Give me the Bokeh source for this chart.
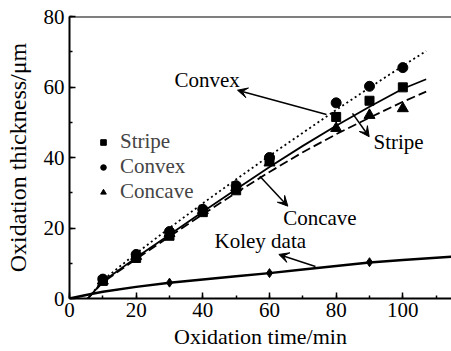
from bokeh.plotting import figure
from bokeh.models import (Range1d, SingleIntervalTicker, Legend, LegendItem, Label,
                          Arrow, VeeHead, Span)
from bokeh.embed import file_html
from bokeh.resources import INLINE

# ---- measured data ----
time = [10, 20, 30, 40, 50, 60, 80, 90, 100]
stripe = [5.0, 11.5, 17.8, 24.5, 30.7, 39.2, 51.5, 56.1, 59.9]
convex = [5.5, 12.5, 19.0, 25.3, 32.0, 40.0, 55.5, 60.2, 65.5]
concave = [5.0, 12.0, 18.5, 25.0, 31.5, 38.5, 48.3, 52.0, 53.9]

koley_t = [30, 60, 90]
koley_y = [4.5, 7.2, 10.3]

# fitted curves
fit_t = [5.5, 10, 20, 30, 40, 50, 60, 70, 80, 90, 100, 107]
fit_stripe = [0, 4.8, 11.6, 18.1, 24.6, 31.0, 37.3, 43.3, 49.0, 54.4, 59.5, 62.2]
fit_convex = [0, 5.2, 12.8, 20.0, 27.0, 33.8, 40.5, 47.0, 53.5, 59.8, 66.0, 70.2]
fit_concave = [0, 4.6, 11.2, 17.6, 23.9, 30.0, 35.9, 41.5, 46.6, 51.3, 55.8, 58.7]

koley_curve_t = [0, 5, 10, 20, 30, 40, 50, 60, 70, 80, 90, 100, 115]
koley_curve_y = [0, 1.0, 1.9, 3.3, 4.5, 5.4, 6.3, 7.2, 8.2, 9.2, 10.2, 10.9, 11.9]

FONT = "Liberation Serif"

p = figure(width=451, height=351, output_backend="svg", toolbar_location=None,
           x_range=Range1d(0, 114.6), y_range=Range1d(0, 80),
           min_border_left=69, min_border_top=16, min_border_right=0, min_border_bottom=53)
p.outline_line_color = None
p.grid.visible = False
p.background_fill_color = "white"
p.border_fill_color = "white"

for ax in (p.xaxis[0], p.yaxis[0]):
    ax.ticker = SingleIntervalTicker(interval=20, num_minor_ticks=2)
    ax.axis_line_width = 2
    ax.axis_line_color = "black"
    ax.major_tick_in = 6
    ax.major_tick_out = 0
    ax.minor_tick_in = 3
    ax.minor_tick_out = 0
    ax.major_tick_line_width = 1.5
    ax.minor_tick_line_width = 1.5
    ax.major_label_text_font = FONT
    ax.major_label_text_font_size = "21px"
    ax.major_label_text_color = "black"
    ax.axis_label_text_font = FONT
    ax.axis_label_text_font_style = "normal"
    ax.axis_label_text_color = "black"

p.xaxis.axis_label = "Oxidation time/min"
p.yaxis.axis_label = "Oxidation thickness/\u03bcm"
p.xaxis.axis_label_text_font_size = "22px"
p.yaxis.axis_label_text_font_size = "24px"
p.xaxis.major_label_standoff = 4
p.xaxis.axis_label_standoff = 4
p.yaxis.major_label_standoff = 5
p.yaxis.axis_label_standoff = 10

p.add_layout(Span(location=80, dimension="width", line_color="black", line_width=2))

# fitted lines
p.line(fit_t, fit_convex, line_color="black", line_width=1.8, line_dash="2 3")
p.line(fit_t, fit_stripe, line_color="black", line_width=1.8)
p.line(fit_t, fit_concave, line_color="black", line_width=1.8, line_dash="9 4")
p.line(koley_curve_t, koley_curve_y, line_color="black", line_width=2.5)

# markers
r_sq = p.scatter(time, stripe, marker="square", size=9, color="black")
r_ci = p.scatter(time, convex, marker="circle", size=10, color="black")
r_tr = p.scatter(time, concave, marker="triangle", size=11, color="black")
p.scatter(koley_t, koley_y, marker="diamond", size=9, color="black")

legend = Legend(items=[LegendItem(label="Stripe", renderers=[r_sq]),
                       LegendItem(label="Convex", renderers=[r_ci]),
                       LegendItem(label="Concave", renderers=[r_tr])],
                location=(27, 94), padding=0, margin=0, spacing=-2,
                glyph_width=14, glyph_height=20, label_height=20, label_standoff=10,
                label_text_font=FONT, label_text_font_size="21px",
                background_fill_alpha=0, border_line_alpha=0)
p.add_layout(legend)

# annotations
notes = [
    ("Convex", 31.5, 58.7, 77.1, 52.2, 50.4, 59.1),
    ("Stripe", 91.2, 41.0, 84.9, 52.5, 89.9, 45.9),
    ("Concave", 64.1, 19.5, 57.1, 34.7, 65.5, 26.2),
    ("Koley data", 43.5, 13.0, 73.8, 9.1, 62.8, 12.5),
]
for txt, tx, ty, xs, ys, xe, ye in notes:
    p.add_layout(Label(x=tx, y=ty, text=txt, text_font=FONT, text_font_size="21px",
                       text_color="black"))
    p.add_layout(Arrow(x_start=xs, y_start=ys, x_end=xe, y_end=ye, line_width=1.5,
                       line_color="black",
                       end=VeeHead(size=10, fill_color="black", line_color="black")))

open("out.html", "w").write(file_html(p, INLINE))
